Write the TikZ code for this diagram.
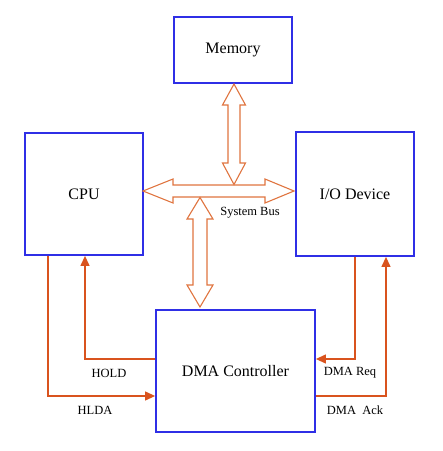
\documentclass[tikz,border=0pt]{standalone}
\usepackage{fontspec}
\setmainfont{Liberation Serif}
\usetikzlibrary{arrows.meta}
\definecolor{boxblue}{HTML}{2F2FE6}
\definecolor{busorange}{HTML}{E0743F}
\definecolor{sigred}{HTML}{D9531E}
\tikzset{
  unit/.style={draw=boxblue, line width=1.8pt, inner sep=0pt, font=\fontsize{16}{18}\selectfont},
  bus/.style={draw=busorange, line width=1.1pt, line join=miter, fill=white},
  sig/.style={draw=sigred, line width=1.2pt, -{Triangle[length=10pt,width=9pt]}},
  lbl/.style={font=\fontsize{12.5}{14}\selectfont, inner sep=0pt}
}
\begin{document}
\begin{tikzpicture}[x=1pt,y=-1pt]
    \useasboundingbox (0,0) rectangle (443,451);

    \node[unit, minimum width=118pt, minimum height=66pt] (mem) at (233,50) {Memory};
    \node[unit, minimum width=118pt, minimum height=122pt] (cpu) at (84,194) {CPU};
    \node[unit, minimum width=118pt, minimum height=124pt] (io) at (355,194) {I/O Device};
    \node[unit, minimum width=159pt, minimum height=122pt] (dma) at (235.5,371) {DMA Controller};

    % system bus
    \draw[bus] (143,191) -- (173,179) -- (173,185) -- (265,185) -- (265,179) -- (294,191)
      -- (265,203) -- (265,197) -- (173,197) -- (173,203) -- cycle;
    \draw[bus] (234,84) -- (245.5,105) -- (240,105) -- (240,163) -- (245.5,163) -- (234,184.5)
      -- (222.5,163) -- (228,163) -- (228,105) -- (222.5,105) -- cycle;
    \draw[bus] (200,197.5) -- (213,219) -- (207,219) -- (207,285) -- (213,285) -- (200,307)
      -- (187,285) -- (193,285) -- (193,219) -- (187,219) -- cycle;
    \node[lbl] (sb) at (250,213) {System Bus};

    % control lines
    \coordinate (hold) at (85,359);
    \coordinate (hlda) at (48,396);
    \coordinate (req) at (355,359);
    \coordinate (ack) at (386,396);

    \draw[sig] (dma.west |- hold) -| (cpu.south -| hold);
    \draw[sig] (cpu.south -| hlda) |- (dma.west |- hlda);
    \draw[sig] (io.south -| req) |- (dma.east |- req);
    \draw[sig] (dma.east |- ack) -| (io.south -| ack);

    \node[lbl] (holdl) at (109,373) {HOLD};
    \node[lbl] (hldal) at (95,410) {HLDA};
    \node[lbl] (reql) at (350,373) {DMA Req};
    \node[lbl] (ackl) at (355,410) {DMA\ \ Ack};
\end{tikzpicture}
\end{document}
